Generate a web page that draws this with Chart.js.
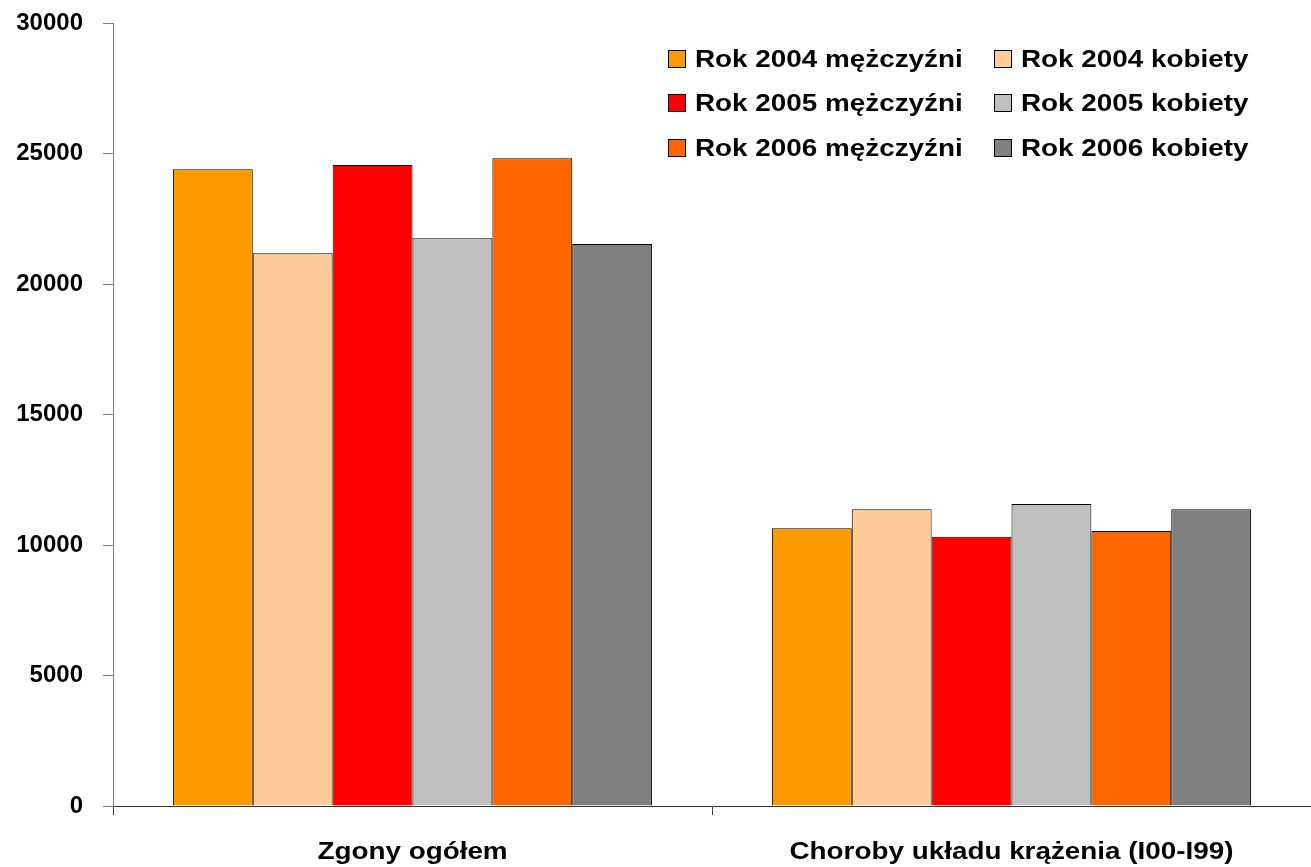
<!DOCTYPE html>
<html>
<head>
<meta charset="utf-8">
<script src="https://cdn.jsdelivr.net/npm/chart.js@4"></script>
<style>
  html, body { margin: 0; padding: 0; background: #fff; }
  #wrap { width: 1311px; height: 867px; }
</style>
</head>
<body>
<div id="wrap"><canvas id="deaths"></canvas></div>
<script>
// categories and series
const categories = ['Zgony ogółem', 'Choroby układu krążenia (I00-I99)'];
const seriesNames = [
  'Rok 2004 mężczyźni', 'Rok 2004 kobiety',
  'Rok 2005 mężczyźni', 'Rok 2005 kobiety',
  'Rok 2006 mężczyźni', 'Rok 2006 kobiety'
];
const m2004 = [24400, 10640];
const k2004 = [21180, 11370];
const m2005 = [24560, 10320];
const k2005 = [21750, 11570];
const m2006 = [24820, 10540];
const k2006 = [21530, 11370];
const colors = ['#FF9900', '#FFCC99', '#FF0000', '#C0C0C0', '#FF6600', '#808080'];

const FONT = "'Liberation Sans', Arial, sans-serif";
const STRETCH = 1.16; // reference text is wider than plain Arial

// legend: two columns, three rows, inside the plot area
const boxLegend = {
  id: 'boxLegend',
  afterDraw(chart) {
    const ctx = chart.ctx;
    const cols = [668, 994], rowY = [59, 103, 148], box = 18;
    ctx.save();
    ctx.font = 'bold 24px ' + FONT;
    ctx.textBaseline = 'middle';
    chart.data.datasets.forEach((ds, i) => {
      const x = cols[i % 2], y = rowY[Math.floor(i / 2)];
      ctx.fillStyle = ds.backgroundColor;
      ctx.fillRect(x, y - box / 2, box, box);
      ctx.strokeStyle = '#000';
      ctx.lineWidth = 1;
      ctx.strokeRect(x + 0.5, y - box / 2 + 0.5, box - 1, box - 1);
      ctx.fillStyle = '#000';
      ctx.save();
      ctx.translate(x + box + 9, y);
      ctx.scale(STRETCH, 1);
      ctx.fillText(ds.label, 0, 1);
      ctx.restore();
    });
    ctx.restore();
  }
};

// category labels, placed with the x scale, drawn a bit wider like the reference
const catLabels = {
  id: 'catLabels',
  afterDraw(chart) {
    const ctx = chart.ctx, xs = chart.scales.x;
    ctx.save();
    ctx.font = 'bold 24px ' + FONT;
    ctx.textAlign = 'center';
    ctx.textBaseline = 'middle';
    ctx.fillStyle = '#000';
    categories.forEach((c, i) => {
      ctx.save();
      ctx.translate(xs.getPixelForValue(i), xs.bottom - 15);
      ctx.scale(STRETCH, 1);
      ctx.fillText(c, 0, 0);
      ctx.restore();
    });
    ctx.restore();
  }
};

const values = [m2004, k2004, m2005, k2005, m2006, k2006];

new Chart(document.getElementById('deaths'), {
  type: 'bar',
  data: {
    labels: categories,
    datasets: values.map((v, i) => ({
      label: seriesNames[i],
      data: v,
      backgroundColor: colors[i],
      borderColor: '#000',
      borderWidth: 1,
      categoryPercentage: 0.8,
      barPercentage: 1.0
    }))
  },
  options: {
    responsive: true,
    maintainAspectRatio: false,
    animation: false,
    layout: { padding: { top: 23, right: 0, left: 0, bottom: 0 } },
    plugins: {
      legend: { display: false },
      tooltip: { enabled: false }
    },
    scales: {
      x: {
        afterFit: s => { s.height = 61; s.paddingLeft = 0; s.paddingRight = 0; },
        grid: { drawOnChartArea: false, offset: true, tickLength: 9, color: '#404040' },
        border: { color: '#333', width: 1 },
        ticks: { display: false }
      },
      y: {
        min: 0,
        max: 30000,
        afterFit: s => { s.width = 113; s.paddingTop = 0; s.paddingBottom = 0; },
        grid: { drawOnChartArea: false, tickLength: 10, color: '#808080' },
        border: { color: '#808080', width: 1 },
        ticks: {
          stepSize: 5000,
          color: '#000',
          padding: 20,
          font: { family: FONT, size: 24, weight: 'bold' },
          callback: v => String(v)
        }
      }
    }
  },
  plugins: [boxLegend, catLabels]
});
</script>
</body>
</html>
